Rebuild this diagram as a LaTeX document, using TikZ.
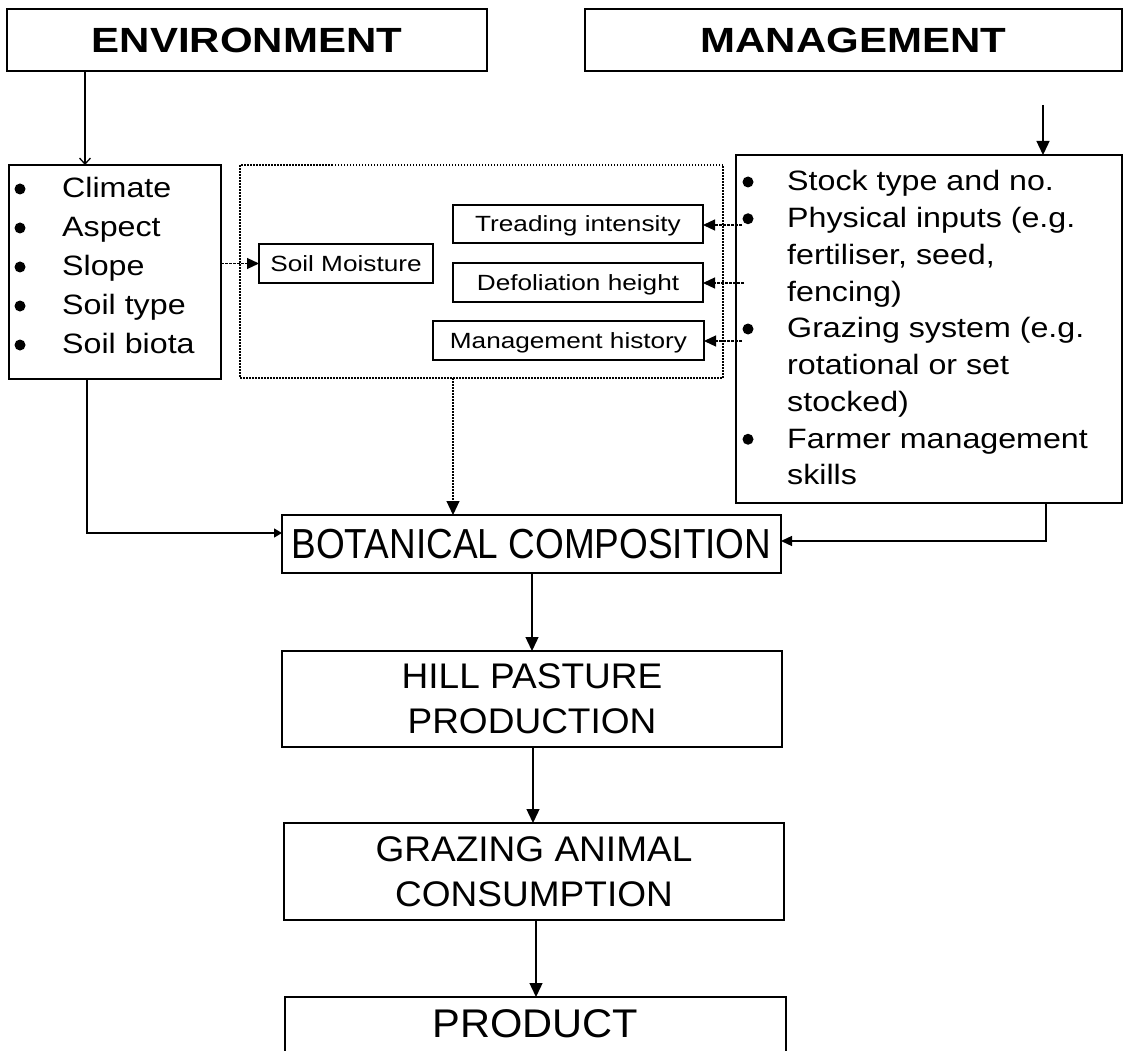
\documentclass[tikz,border=0pt]{standalone}
\usepackage{fontspec}
\setmainfont{Liberation Sans}
\newfontfamily\hdfont{Liberation Sans}[FakeStretch=1.2]
\newfontfamily\lsfont{Liberation Sans}[FakeStretch=1.15]
\newfontfamily\smfont{Liberation Sans}[FakeStretch=1.19]
\newfontfamily\lwfont{Liberation Sans}[FakeStretch=1.04]
\newfontfamily\btfont{Liberation Sans}[FakeStretch=0.88]
\usetikzlibrary{arrows.meta}
\begin{document}
\begin{tikzpicture}[x=1pt,y=-1pt,
  box/.style={draw, line width=1.8pt, inner sep=0pt, outer sep=0pt},
  sbox/.style={draw, line width=1.2pt, inner sep=0pt, outer sep=0pt, text height=16pt, text depth=0pt, font=\smfont\fontsize{22}{26}\selectfont},
  dbox/.style={draw, line width=1.3pt, dash pattern=on 1.5pt off 1.5pt, inner sep=0pt, outer sep=0pt},
  hdtext/.style={font=\hdfont\bfseries\fontsize{35}{42}\selectfont},
  lowtext/.style={align=center, font=\lwfont\fontsize{35.6}{45}\selectfont},
  listtext/.style={anchor=base west, inner sep=0pt},
  arr/.style={line width=1.4pt, -{Triangle[length=14pt,width=13pt]}},
  sarr/.style={line width=1.2pt, dash pattern=on 3pt off 1pt, -{Triangle[length=12pt,width=11pt]}},
  rarr/.style={line width=1.3pt, -{Triangle[length=11pt,width=10pt]}},
  larr/.style={line width=1.3pt, -{Triangle[length=8pt,width=9pt]}},
  darr/.style={line width=1.1pt, dash pattern=on 1.5pt off 1.5pt, -{Triangle[length=14pt,width=13pt]}},
  barb/.style={line width=1.3pt, -{Straight Barb[length=6pt,width=11pt]}}
]
\fill[white] (0,0) rectangle (1125,1051);
\useasboundingbox (0,0) rectangle (1125,1051);

% headers
\node[box, hdtext, minimum width=480pt, minimum height=62pt] (env) at (247,40) {ENVIRONMENT};
\node[box, hdtext, minimum width=537pt, minimum height=62pt] (mgmt) at (853.5,40) {MANAGEMENT};

% left list box
\node[box, minimum width=212pt, minimum height=214pt] (leftbox) at (115,272) {};
\node[listtext, font=\lsfont\fontsize{28}{39}\selectfont] (envlist) at (62,198)
  {\begin{tabular}[t]{@{}l@{}}Climate\\Aspect\\Slope\\Soil type\\Soil biota\end{tabular}};
\foreach \yy in {198,237,276,315,354} \fill (20,\yy-9) circle (5.5pt);

% dotted group
\node[dbox, minimum width=483pt, minimum height=213pt] (dotted) at (481.5,271.5) {};
\node[sbox, minimum width=174pt, minimum height=39pt] (soil) at (346,263.5) {Soil Moisture};
\node[sbox, minimum width=250pt, minimum height=38pt] (tread) at (578,224) {Treading intensity};
\node[sbox, minimum width=250pt, minimum height=39pt] (defol) at (578,282.5) {Defoliation height};
\node[sbox, minimum width=271pt, minimum height=39pt] (mhist) at (568.5,340.5) {Management history};

% right list box
\node[box, minimum width=386pt, minimum height=348pt] (rightbox) at (929,329) {};
\node[listtext, font=\lsfont\fontsize{28}{36.75}\selectfont] (mgmtlist) at (787,191)
  {\begin{tabular}[t]{@{}l@{}}Stock type and no.\\Physical inputs (e.g.\\fertiliser, seed,\\fencing)\\Grazing system (e.g.\\rotational or set\\stocked)\\Farmer management\\skills\end{tabular}};
\foreach \yy in {191,227.75,338,448.25} \fill (748,\yy-9) circle (5.5pt);

% lower chain
\node[box, minimum width=499pt, minimum height=58pt, font=\btfont\fontsize{42}{48}\selectfont] (bot) at (531.5,544) {BOTANICAL COMPOSITION};
\node[box, lowtext, minimum width=500pt, minimum height=96pt] (hill) at (532,699) {HILL PASTURE\\PRODUCTION};
\node[box, lowtext, minimum width=500pt, minimum height=97pt] (graz) at (534,871.5) {GRAZING ANIMAL\\CONSUMPTION};
\node[box, minimum width=501pt, minimum height=100pt] (prod) at (535.5,1047) {};
\node[anchor=base, inner sep=0pt, font=\lwfont\fontsize{40}{48}\selectfont] (prodtext) at (535.5,1037) {PRODUCT};

% connectors
\coordinate (ea) at (85,0);
\draw[barb] (ea |- env.south) -- (ea |- leftbox.north);
\coordinate (ma) at (1043,105);
\draw[arr] (ma) -- (ma |- rightbox.north);
\draw[sarr] (leftbox.east |- soil.west) -- (soil.west);
\coordinate (t1) at (742,225);
\draw[sarr] (t1) -- (t1 -| tread.east);
\coordinate (t2) at (744,283);
\draw[sarr] (t2) -- (t2 -| defol.east);
\coordinate (t3) at (742,341);
\draw[sarr] (t3) -- (t3 -| mhist.east);
\coordinate (lb) at (87,0);
\draw[larr] (lb |- leftbox.south) |- ([yshift=11pt]bot.west);
\coordinate (rb) at (1046,0);
\draw[rarr] (rb |- rightbox.south) |- ([yshift=3pt]bot.east);
\coordinate (da) at (453,0);
\draw[darr] (da |- dotted.south) -- (da |- bot.north);
\coordinate (c1) at (532,0);
\draw[arr] (c1 |- bot.south) -- (c1 |- hill.north);
\coordinate (c2) at (533,0);
\draw[arr] (c2 |- hill.south) -- (c2 |- graz.north);
\coordinate (c3) at (536,0);
\draw[arr] (c3 |- graz.south) -- (c3 |- prod.north);
\end{tikzpicture}
\end{document}
